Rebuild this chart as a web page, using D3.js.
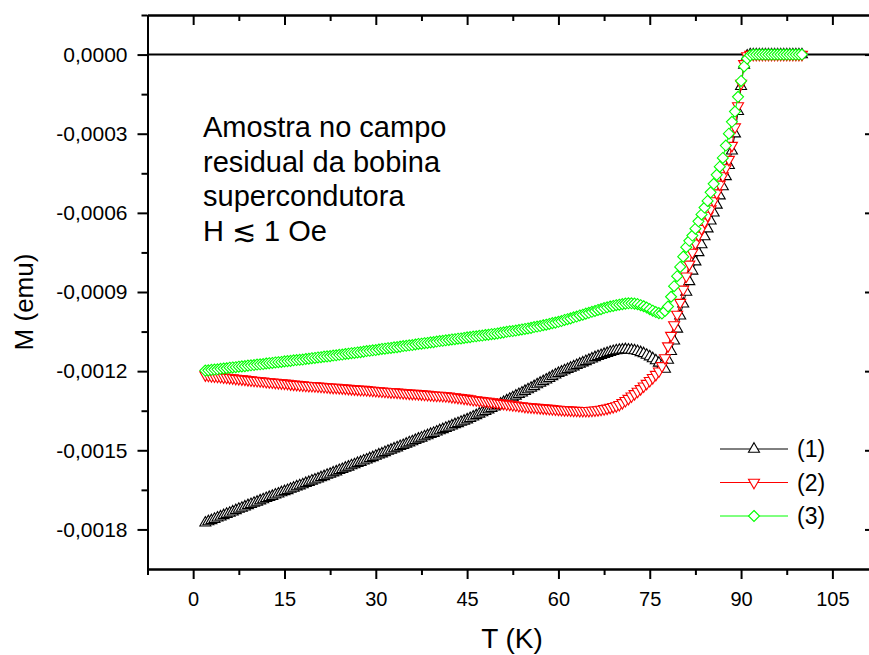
<!DOCTYPE html>
<html>
<head>
<meta charset="utf-8">
<script src="https://cdn.jsdelivr.net/npm/d3@7"></script>
<style>
  body { margin: 0; background: #fff; }
  svg { display: block; }
</style>
</head>
<body>
<div id="chart"></div>
<script>
// Temperature (K), one row = 5 K
var temps = [
  2,2.5,3,3.5,4,4.5,5,5.5,6,6.5,
  7,7.5,8,8.5,9,9.5,10,10.5,11,11.5,
  12,12.5,13,13.5,14,14.5,15,15.5,16,16.5,
  17,17.5,18,18.5,19,19.5,20,20.5,21,21.5,
  22,22.5,23,23.5,24,24.5,25,25.5,26,26.5,
  27,27.5,28,28.5,29,29.5,30,30.5,31,31.5,
  32,32.5,33,33.5,34,34.5,35,35.5,36,36.5,
  37,37.5,38,38.5,39,39.5,40,40.5,41,41.5,
  42,42.5,43,43.5,44,44.5,45,45.5,46,46.5,
  47,47.5,48,48.5,49,49.5,50,50.5,51,51.5,
  52,52.5,53,53.5,54,54.5,55,55.5,56,56.5,
  57,57.5,58,58.5,59,59.5,60,60.5,61,61.5,
  62,62.5,63,63.5,64,64.5,65,65.5,66,66.5,
  67,67.5,68,68.5,69,69.5,70,70.5,71,71.5,
  72,72.5,73,73.5,74,74.5,75,75.5,76,76.5,
  77,77.5,78,78.5,79,79.5,80,80.5,81,81.5,
  82,82.5,83,83.5,84,84.5,85,85.5,86,86.5,
  87,87.5,88,88.5,89,89.5,90,90.5,91,91.5,
  92,92.5,93,93.5,94,94.5,95,95.5,96,96.5,
  97,97.5,98,98.5,99,99.5,100
];

// M (emu), curve (1)
var m1 = [
  -0.001775,-0.001770,-0.001766,-0.001761,-0.001756,-0.001752,-0.001747,-0.001742,-0.001738,-0.001733,
  -0.001728,-0.001723,-0.001719,-0.001714,-0.001709,-0.001705,-0.001700,-0.001696,-0.001691,-0.001687,
  -0.001682,-0.001678,-0.001674,-0.001669,-0.001665,-0.001660,-0.001656,-0.001652,-0.001647,-0.001643,
  -0.001638,-0.001634,-0.001630,-0.001625,-0.001621,-0.001616,-0.001612,-0.001608,-0.001603,-0.001599,
  -0.001594,-0.001590,-0.001585,-0.001581,-0.001576,-0.001572,-0.001567,-0.001563,-0.001558,-0.001554,
  -0.001549,-0.001545,-0.001540,-0.001536,-0.001531,-0.001527,-0.001522,-0.001517,-0.001513,-0.001508,
  -0.001503,-0.001499,-0.001494,-0.001490,-0.001485,-0.001481,-0.001476,-0.001471,-0.001467,-0.001462,
  -0.001457,-0.001453,-0.001448,-0.001444,-0.001439,-0.001435,-0.001430,-0.001425,-0.001421,-0.001416,
  -0.001412,-0.001407,-0.001402,-0.001398,-0.001393,-0.001389,-0.001384,-0.001379,-0.001373,-0.001368,
  -0.001362,-0.001357,-0.001352,-0.001346,-0.001341,-0.001335,-0.001330,-0.001324,-0.001318,-0.001312,
  -0.001306,-0.001300,-0.001294,-0.001288,-0.001282,-0.001276,-0.001270,-0.001264,-0.001258,-0.001251,
  -0.001245,-0.001239,-0.001233,-0.001227,-0.001220,-0.001214,-0.001208,-0.001203,-0.001198,-0.001193,
  -0.001188,-0.001183,-0.001178,-0.001173,-0.001168,-0.001163,-0.001158,-0.001153,-0.001148,-0.001144,
  -0.001140,-0.001136,-0.001132,-0.001128,-0.001125,-0.001122,-0.001120,-0.001119,-0.001118,-0.001119,
  -0.001120,-0.001122,-0.001125,-0.001129,-0.001133,-0.001139,-0.001145,-0.001152,-0.001160,-0.001169,
  -0.001180,-0.001192,-0.001158,-0.001125,-0.001085,-0.001040,-0.000990,-0.000945,-0.000900,-0.000860,
  -0.000820,-0.000785,-0.000750,-0.000720,-0.000690,-0.000660,-0.000630,-0.000600,-0.000570,-0.000535,
  -0.000500,-0.000462,-0.000420,-0.000365,-0.000300,-0.000215,-0.000120,-0.000040,-0.000005,0,
  0,0,0,0,0,0,0,0,0,0,
  0,0,0,0,0,0,0
];

// M (emu), curve (2)
var m2 = [
  -0.001215,-0.001216,-0.001218,-0.001219,-0.001220,-0.001221,-0.001223,-0.001224,-0.001225,-0.001226,
  -0.001228,-0.001229,-0.001230,-0.001231,-0.001233,-0.001234,-0.001235,-0.001236,-0.001237,-0.001238,
  -0.001240,-0.001241,-0.001242,-0.001243,-0.001244,-0.001245,-0.001246,-0.001247,-0.001249,-0.001250,
  -0.001251,-0.001252,-0.001253,-0.001254,-0.001255,-0.001255,-0.001256,-0.001257,-0.001258,-0.001259,
  -0.001260,-0.001261,-0.001262,-0.001262,-0.001263,-0.001264,-0.001265,-0.001266,-0.001267,-0.001268,
  -0.001269,-0.001270,-0.001270,-0.001271,-0.001272,-0.001273,-0.001274,-0.001275,-0.001276,-0.001277,
  -0.001278,-0.001279,-0.001279,-0.001280,-0.001281,-0.001282,-0.001283,-0.001284,-0.001285,-0.001285,
  -0.001286,-0.001287,-0.001288,-0.001289,-0.001290,-0.001291,-0.001292,-0.001292,-0.001293,-0.001294,
  -0.001295,-0.001297,-0.001298,-0.001300,-0.001301,-0.001303,-0.001304,-0.001306,-0.001308,-0.001309,
  -0.001311,-0.001312,-0.001314,-0.001315,-0.001317,-0.001318,-0.001320,-0.001322,-0.001323,-0.001325,
  -0.001326,-0.001328,-0.001329,-0.001331,-0.001332,-0.001334,-0.001335,-0.001336,-0.001337,-0.001338,
  -0.001339,-0.001340,-0.001341,-0.001342,-0.001343,-0.001344,-0.001345,-0.001346,-0.001347,-0.001347,
  -0.001348,-0.001349,-0.001349,-0.001350,-0.001350,-0.001350,-0.001350,-0.001349,-0.001348,-0.001347,
  -0.001345,-0.001343,-0.001341,-0.001338,-0.001335,-0.001332,-0.001327,-0.001320,-0.001312,-0.001304,
  -0.001295,-0.001286,-0.001277,-0.001267,-0.001257,-0.001247,-0.001236,-0.001225,-0.001213,-0.001200,
  -0.001180,-0.001150,-0.001105,-0.001065,-0.001025,-0.000985,-0.000940,-0.000890,-0.000840,-0.000795,
  -0.000750,-0.000715,-0.000685,-0.000660,-0.000635,-0.000610,-0.000585,-0.000555,-0.000525,-0.000492,
  -0.000460,-0.000430,-0.000398,-0.000345,-0.000275,-0.000195,-0.000110,-0.000035,-0.000005,0,
  0,0,0,0,0,0,0,0,0,0,
  0,0,0,0,0,0,0
];

// M (emu), curve (3)
var m3 = [
  -0.001198,-0.001197,-0.001195,-0.001194,-0.001193,-0.001191,-0.001190,-0.001189,-0.001187,-0.001186,
  -0.001185,-0.001183,-0.001182,-0.001181,-0.001179,-0.001178,-0.001177,-0.001175,-0.001174,-0.001173,
  -0.001171,-0.001170,-0.001169,-0.001167,-0.001166,-0.001165,-0.001163,-0.001162,-0.001161,-0.001159,
  -0.001158,-0.001157,-0.001156,-0.001154,-0.001153,-0.001151,-0.001150,-0.001148,-0.001147,-0.001145,
  -0.001144,-0.001143,-0.001141,-0.001140,-0.001138,-0.001137,-0.001135,-0.001134,-0.001132,-0.001131,
  -0.001129,-0.001128,-0.001126,-0.001124,-0.001123,-0.001121,-0.001120,-0.001118,-0.001116,-0.001115,
  -0.001113,-0.001112,-0.001110,-0.001109,-0.001107,-0.001105,-0.001104,-0.001102,-0.001101,-0.001099,
  -0.001097,-0.001096,-0.001094,-0.001093,-0.001091,-0.001090,-0.001088,-0.001086,-0.001085,-0.001083,
  -0.001082,-0.001080,-0.001079,-0.001077,-0.001076,-0.001074,-0.001072,-0.001071,-0.001069,-0.001068,
  -0.001066,-0.001065,-0.001063,-0.001062,-0.001060,-0.001059,-0.001057,-0.001055,-0.001053,-0.001051,
  -0.001049,-0.001048,-0.001046,-0.001044,-0.001042,-0.001040,-0.001038,-0.001036,-0.001033,-0.001031,
  -0.001029,-0.001026,-0.001024,-0.001021,-0.001018,-0.001016,-0.001013,-0.001010,-0.001006,-0.001003,
  -0.001000,-0.000996,-0.000993,-0.000989,-0.000986,-0.000982,-0.000979,-0.000975,-0.000972,-0.000968,
  -0.000965,-0.000961,-0.000958,-0.000955,-0.000953,-0.000950,-0.000948,-0.000946,-0.000944,-0.000943,
  -0.000943,-0.000944,-0.000946,-0.000950,-0.000954,-0.000959,-0.000965,-0.000971,-0.000976,-0.000980,
  -0.000981,-0.000972,-0.000955,-0.000918,-0.000878,-0.000840,-0.000805,-0.000766,-0.000730,-0.000706,
  -0.000686,-0.000660,-0.000632,-0.000606,-0.000580,-0.000555,-0.000522,-0.000490,-0.000456,-0.000425,
  -0.000392,-0.000345,-0.000300,-0.000255,-0.000216,-0.000160,-0.000100,-0.000045,-0.000015,-0.000003,
  0,0,0,0,0,0,0,0,0,0,
  0,0,0,0,0,0,0
];

var seriesNames = ["(1)", "(2)", "(3)"];
var seriesColors = ["#000000", "#ff0000", "#00ff00"];
var xTicks = [0, 15, 30, 45, 60, 75, 90, 105];
var xMinorTicks = [-7.5, 7.5, 22.5, 37.5, 52.5, 67.5, 82.5, 97.5];
var yTicks = [0, -0.0003, -0.0006, -0.0009, -0.0012, -0.0015, -0.0018];
var yMinorTicks = [0.00015, -0.00015, -0.00045, -0.00075, -0.00105, -0.00135, -0.00165];
var noteLines = ["Amostra no campo", "residual da bobina", "supercondutora", "H \u2272 1 Oe"];

var font = "'Liberation Sans', Arial, Helvetica, sans-serif";
var W = 869, H = 655;

var svg = d3.select("#chart")
    .append("svg")
    .attr("width", W)
    .attr("height", H)
    .style("font-family", font);

// the plot box runs a little past the right edge of the picture
var x = d3.scaleLinear().domain([-7.5, 112]).range([147.5, 875]);
var y = d3.scaleLinear().domain([-0.00195, 0.00015]).range([569, 15]);

var loc = d3.formatLocale({ decimal: ",", thousands: ".", grouping: [3], currency: ["", ""], minus: "-" });
var yFmt = loc.format(".4f");

// zero line (under the markers)
svg.append("line")
    .attr("x1", x.range()[0]).attr("x2", x.range()[1])
    .attr("y1", y(0)).attr("y2", y(0))
    .attr("stroke", "#000").attr("stroke-width", 2);

// marker shapes
var symbols = [
    "M0,-6.3L5.5,3.2L-5.5,3.2Z",
    "M0,6.3L5.5,-3.2L-5.5,-3.2Z",
    "M0,-5.5L5.5,0L0,5.5L-5.5,0Z"
];

var series = [m1, m2, m3];
var line = d3.line()
    .x(function (d) { return x(d.t); })
    .y(function (d) { return y(d.m); });

series.forEach(function (ms, k) {
    var pts = temps.map(function (t, i) { return { t: t, m: ms[i] }; });
    var g = svg.append("g");
    g.append("path")
        .datum(pts)
        .attr("d", line)
        .attr("fill", "none")
        .attr("stroke", seriesColors[k])
        .attr("stroke-width", 1);
    g.selectAll("path.mk")
        .data(pts)
        .enter()
        .append("path")
        .attr("class", "mk")
        .attr("d", symbols[k])
        .attr("transform", function (d) { return "translate(" + x(d.t) + "," + y(d.m) + ")"; })
        .attr("fill", "#fff")
        .attr("stroke", seriesColors[k])
        .attr("stroke-width", 1.1);
});

// axes
function styleAxis(g, size) {
    g.attr("font-family", font).attr("font-size", size);
    g.select(".domain").attr("stroke-width", 2);
    g.selectAll(".tick line").attr("stroke-width", 2);
    g.selectAll(".tick text").attr("fill", "#000");
}

svg.append("g")
    .attr("transform", "translate(0," + y.range()[0] + ")")
    .call(d3.axisBottom(x).tickValues(xTicks).tickSize(10).tickSizeOuter(0).tickPadding(13).tickFormat(d3.format("d")))
    .call(styleAxis, 20);
svg.append("g")
    .attr("transform", "translate(0," + y.range()[0] + ")")
    .call(d3.axisBottom(x).tickValues(xMinorTicks).tickSize(6).tickSizeOuter(0).tickFormat(""))
    .call(styleAxis, 20);

svg.append("g")
    .attr("transform", "translate(0," + y.range()[1] + ")")
    .call(d3.axisBottom(x).tickValues(xTicks).tickSize(10).tickSizeOuter(0).tickFormat(""))
    .call(styleAxis, 20);
svg.append("g")
    .attr("transform", "translate(0," + y.range()[1] + ")")
    .call(d3.axisBottom(x).tickValues(xMinorTicks).tickSize(6).tickSizeOuter(0).tickFormat(""))
    .call(styleAxis, 20);

svg.append("g")
    .attr("transform", "translate(" + x.range()[0] + ",0)")
    .call(d3.axisLeft(y).tickValues(yTicks).tickSize(10).tickSizeOuter(0).tickPadding(10).tickFormat(yFmt))
    .call(styleAxis, 21);
svg.append("g")
    .attr("transform", "translate(" + x.range()[0] + ",0)")
    .call(d3.axisLeft(y).tickValues(yMinorTicks).tickSize(6).tickSizeOuter(0).tickFormat(""))
    .call(styleAxis, 21);

svg.append("g")
    .attr("transform", "translate(" + x.range()[1] + ",0)")
    .call(d3.axisLeft(y).tickValues(yTicks).tickSize(10).tickSizeOuter(0).tickFormat(""))
    .call(styleAxis, 21);
svg.append("g")
    .attr("transform", "translate(" + x.range()[1] + ",0)")
    .call(d3.axisLeft(y).tickValues(yMinorTicks).tickSize(6).tickSizeOuter(0).tickFormat(""))
    .call(styleAxis, 21);

// axis titles
svg.append("text")
    .attr("x", 512)
    .attr("y", 648)
    .attr("text-anchor", "middle")
    .style("font-size", "28px")
    .text("T (K)");

svg.append("text")
    .attr("transform", "translate(33,302) rotate(-90)")
    .attr("text-anchor", "middle")
    .style("font-size", "26px")
    .text("M (emu)");

// note
svg.append("g").selectAll("text")
    .data(noteLines)
    .enter()
    .append("text")
    .attr("x", 203)
    .attr("y", function (d, i) { return 137 + i * 34.5; })
    .style("font-size", "29px")
    .text(function (d) { return d; });

// legend
var leg = svg.append("g").selectAll("g")
    .data(seriesNames)
    .enter()
    .append("g")
    .attr("transform", function (d, i) { return "translate(0," + (449 + i * 33.5) + ")"; });
leg.append("line")
    .attr("x1", 720).attr("x2", 788)
    .attr("stroke", function (d, i) { return seriesColors[i]; })
    .attr("stroke-width", 1);
leg.append("path")
    .attr("d", function (d, i) { return symbols[i]; })
    .attr("transform", "translate(754,0)")
    .attr("fill", "#fff")
    .attr("stroke", function (d, i) { return seriesColors[i]; })
    .attr("stroke-width", 1.1);
leg.append("text")
    .attr("x", 797)
    .attr("y", 8)
    .style("font-size", "23px")
    .text(function (d) { return d; });
</script>
</body>
</html>
